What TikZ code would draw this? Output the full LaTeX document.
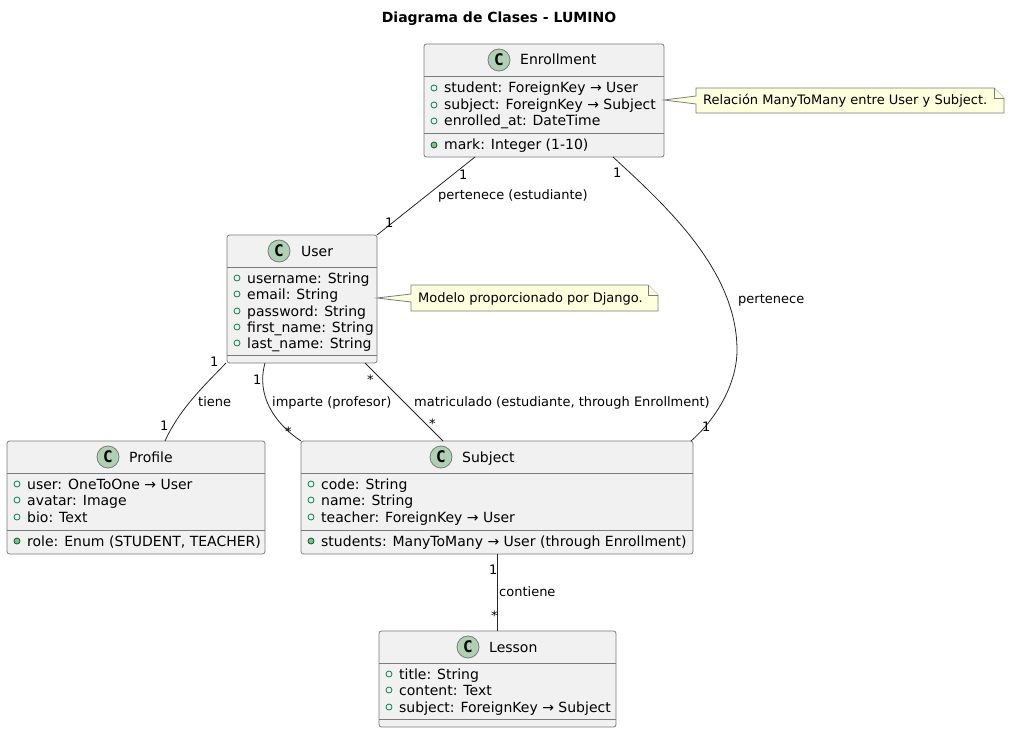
\documentclass[tikz,border=0pt]{standalone}
\usepackage{fontspec}
\setmainfont{DejaVu Sans}
\newfontfamily\spotfont{DejaVu Sans Mono}
\usetikzlibrary{calc}
\definecolor{boxfill}{HTML}{F1F1F1}
\definecolor{boxline}{HTML}{7B7B7B}
\definecolor{spotfill}{HTML}{ADD1B2}
\definecolor{vis}{HTML}{038048}
\definecolor{visf}{HTML}{84BE84}
\definecolor{notefill}{HTML}{FEFFDD}
\tikzset{
 x=1pt,y=-1pt,
 classbox/.style={draw=boxline,fill=boxfill,rounded corners=2.5pt,line width=.8pt,anchor=north west,inner sep=0pt,outer sep=0pt},
 divider/.style={draw=boxline,line width=.8pt},
 conn/.style={draw=black!85,line width=.8pt},
 attr/.style={anchor=base west,inner sep=0pt,font=\fontsize{14}{14}\selectfont},
 lab/.style={anchor=base west,inner sep=0pt,font=\fontsize{13}{13}\selectfont},
 spot/.style={circle,draw=boxline,fill=spotfill,line width=.8pt,minimum size=22pt,inner sep=0pt,font=\fontsize{16}{16}\selectfont\spotfont\bfseries},
 opn/.style={circle,draw=vis,line width=.8pt,minimum size=6pt,inner sep=0pt},
 cls/.style={circle,draw=vis!70!black,fill=visf,line width=.8pt,minimum size=6pt,inner sep=0pt},
 notepoly/.style={draw=boxline,fill=notefill,line width=.8pt,line join=miter},
}
% name, x, y, w, h, separator offset, title, circle cx, title x
\newcommand{\umlbox}[9]{%
 \node[classbox,minimum width=#4pt,minimum height=#5pt] (#1) at (#2,#3) {};
 \draw[divider] ([yshift=-32pt]#1.north west) -- ([yshift=-32pt]#1.north east);
 \draw[divider] ([yshift=-#6pt]#1.north west) -- ([yshift=-#6pt]#1.north east);
 \node[spot] (#1spot) at (#8,#3+16) {C};
 \node[attr] (#1name) at (#9,#3+21) {#7};
}
% id, box x, baseline y, marker style, text
\newcommand{\umlattr}[5]{%
 \node[#4] (#1m) at (#2+10,#3-5) {};
 \node[attr] (#1) at (#2+20,#3) {#5};
}
\begin{document}
\begin{tikzpicture}
\useasboundingbox (0,0) rectangle (1010,733);
\node[anchor=base,inner sep=0pt,font=\fontsize{14}{14}\selectfont\bfseries] (title) at (499,23) {Diagrama de Clases - LUMINO};

\umlbox{enr}{424}{44}{240}{113}{89.5}{Enrollment}{499}{520}
\umlattr{e1}{424}{93}{opn}{student: ForeignKey → User}
\umlattr{e2}{424}{110}{opn}{subject: ForeignKey → Subject}
\umlattr{e3}{424}{126}{opn}{enrolled\_at: DateTime}
\umlattr{e4}{424}{150}{cls}{mark: Integer (1-10)}

\umlbox{usr}{227}{235}{150}{128}{120}{User}{279}{301}
\umlattr{u1}{227}{283}{opn}{username: String}
\umlattr{u2}{227}{299}{opn}{email: String}
\umlattr{u3}{227}{316}{opn}{password: String}
\umlattr{u4}{227}{332}{opn}{first\_name: String}
\umlattr{u5}{227}{348}{opn}{last\_name: String}

\umlbox{pro}{7}{441}{258}{113}{89.5}{Profile}{108}{129}
\umlattr{p1}{7}{489}{opn}{user: OneToOne → User}
\umlattr{p2}{7}{505}{opn}{avatar: Image}
\umlattr{p3}{7}{522}{opn}{bio: Text}
\umlattr{p4}{7}{546}{cls}{role: Enum (STUDENT, TEACHER)}

\umlbox{sub}{301}{441}{392}{113}{89.5}{Subject}{441}{462}
\umlattr{s1}{301}{489}{opn}{code: String}
\umlattr{s2}{301}{505}{opn}{name: String}
\umlattr{s3}{301}{522}{opn}{teacher: ForeignKey → User}
\umlattr{s4}{301}{546}{cls}{students: ManyToMany → User (through Enrollment)}

\umlbox{les}{379}{631}{237}{96}{88}{Lesson}{468}{489}
\umlattr{l1}{379}{679}{opn}{title: String}
\umlattr{l2}{379}{695}{opn}{content: Text}
\umlattr{l3}{379}{712}{opn}{subject: ForeignKey → Subject}

% connectors
\draw[conn] ([xshift=51pt]enr.south west) -- (usr.north east);
\draw[conn] ([xshift=-51pt]enr.south east) .. controls (665,205) and (737,270) .. (737,350) .. controls (737,385) and (715,420) .. ([xshift=-2pt]sub.north east);
\draw[conn] ([xshift=-1pt]usr.south west) .. controls (205,385) and (180,408) .. ([xshift=158pt]pro.north west);
\draw[conn] ([xshift=38pt]usr.south west) .. controls (256,395) and (274,423) .. (sub.north west);
\draw[conn] ([xshift=-12pt]usr.south east) -- ([xshift=142pt]sub.north west);
\draw[conn] (sub.south -| les.north) -- (les.north);

% edge labels
\node[lab] (la) at (438,200) {pertenece (estudiante)};
\node[lab] (lb) at (738,303) {pertenece};
\node[lab] (lc) at (198,406) {tiene};
\node[lab] (ld) at (272,406) {imparte (profesor)};
\node[lab] (le) at (414,406) {matriculado (estudiante, through Enrollment)};
\node[lab] (lf) at (499,596) {contiene};

% multiplicities
\node[lab] (m1) at (459,180) {1};
\node[lab] (m2) at (385,227) {1};
\node[lab] (m3) at (613,178) {1};
\node[lab] (m4) at (702,431) {1};
\node[lab] (m5) at (210,366) {1};
\node[lab] (m6) at (160,430) {1};
\node[lab] (m7) at (253,384) {1};
\node[lab] (m8) at (285,436) {*};
\node[lab] (m9) at (367,384) {*};
\node[lab] (m10) at (429,428) {*};
\node[lab] (m11) at (489,574) {1};
\node[lab] (m12) at (491,620) {*};

% notes
\draw[notepoly] (696,88) -- (994,88) -- (1004,98) -- (1004,113) -- (696,113) -- (696,104) -- ([yshift=-56pt]enr.north east) -- (696,96) -- cycle;
\draw[notepoly] (994,88) -- (994,98) -- (1004,98);
\node[lab] (n1) at (703,105) {Relación ManyToMany entre User y Subject.};
\draw[notepoly] (411,285) -- (648,285) -- (658,295) -- (658,311) -- (411,311) -- (411,302) -- ([yshift=-63pt]usr.north east) -- (411,294) -- cycle;
\draw[notepoly] (648,285) -- (648,295) -- (658,295);
\node[lab] (n2) at (418,302) {Modelo proporcionado por Django.};
\end{tikzpicture}
\end{document}
